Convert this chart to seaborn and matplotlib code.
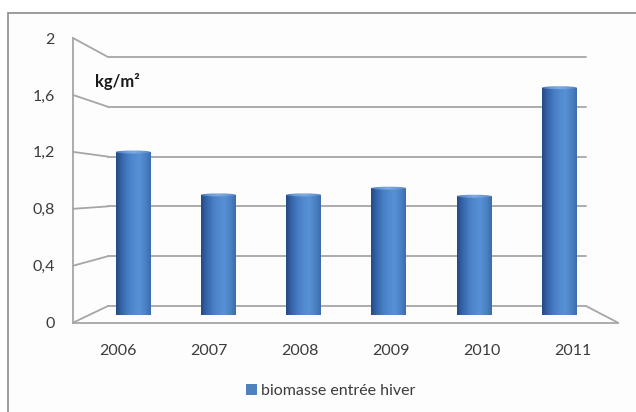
import numpy as np
import pandas as pd
import matplotlib
matplotlib.use("Agg")
import matplotlib.pyplot as plt
import seaborn as sns
from matplotlib.patches import Ellipse, Rectangle, Patch
from matplotlib.lines import Line2D
from matplotlib.colors import LinearSegmentedColormap

# ---- data -------------------------------------------------------------
years = ["2006", "2007", "2008", "2009", "2010", "2011"]
biomass = [1.22, 0.90, 0.90, 0.95, 0.89, 1.70]
y_ticks = [0, 0.4, 0.8, 1.2, 1.6, 2.0]
y_tick_labels = ["0", "0,4", "0,8", "1,2", "1,6", "2"]
unit_label = "kg/m²"
series_label = "biomasse entrée hiver"

# ---- style ------------------------------------------------------------
W, H = 636, 412
line_color = "#a6a6a6"
text_color = "#3c3c3c"
bar_color = "#4f81bd"
sns.set_theme(style="white")
plt.rcParams["font.family"] = ["Lato", "DejaVu Sans"]

fig = plt.figure(figsize=(W / 100, H / 100), dpi=100)
fig.patch.set_facecolor("white")


def box(left, top, right, bottom):
    """Axes rectangle from pixel edges (origin at the top-left corner)."""
    return [left / W, (H - bottom) / H, (right - left) / W, (bottom - top) / H]


# outer chart frame
fig.add_artist(Rectangle((8 / W, -0.1), 1.0, (H - 13) / H + 0.1,
                         transform=fig.transFigure, facecolor="#fdfdfd",
                         edgecolor="#8c8c8c", lw=1.2, zorder=0))

# ---- back wall with its gridlines --------------------------------------
ax_back = fig.add_axes(box(108, 57, 586, 306), zorder=1)
ax_back.set_xlim(0, 1)
ax_back.set_ylim(0, 2)
ax_back.set_xticks([])
ax_back.set_yticks(y_ticks)
ax_back.yaxis.grid(True, color=line_color, lw=1.3)
ax_back.tick_params(left=False, labelleft=False, bottom=False)
for s in ax_back.spines.values():
    s.set_visible(False)
ax_back.patch.set_alpha(0)
for gl in ax_back.get_ygridlines():
    gl.set_clip_on(False)

# ---- front axes: value scale and category labels ------------------------
ax_front = fig.add_axes(box(73, 38, 618, 322.7), zorder=3)
ax_front.set_xlim(-0.5, 5.5)
ax_front.set_ylim(0, 2)
ax_front.set_yticks(y_ticks, y_tick_labels)
ax_front.set_xticks(range(len(years)), years)
ax_front.set_xticks(np.arange(0.5, len(years) - 1, 1), minor=True)
ax_front.tick_params(axis="x", which="major", length=0, pad=15,
                     labelsize=11.5, labelcolor=text_color)
ax_front.tick_params(axis="x", which="minor", length=5, width=1.2,
                     color=line_color, direction="out")
ax_front.tick_params(axis="y", length=4, width=1.2, color=line_color,
                     direction="out", pad=9, labelsize=11.5,
                     labelcolor=text_color)
ax_front.spines[["top", "right"]].set_visible(False)
for s in ("left", "bottom"):
    ax_front.spines[s].set_color(line_color)
    ax_front.spines[s].set_linewidth(1.3)
ax_front.patch.set_alpha(0)

# perspective connectors between front scale and back wall
to_fig = fig.transFigure.inverted()
for v in y_ticks:
    p0 = to_fig.transform(ax_front.transData.transform((-0.5, v)))
    p1 = to_fig.transform(ax_back.transData.transform((0, v)))
    fig.add_artist(Line2D([p0[0], p1[0]], [p0[1], p1[1]],
                          color=line_color, lw=1.3, zorder=1))
p0 = to_fig.transform(ax_front.transData.transform((5.5, 0)))
p1 = to_fig.transform(ax_back.transData.transform((1, 0)))
fig.add_artist(Line2D([p0[0], p1[0]], [p0[1], p1[1]],
                      color=line_color, lw=1.3, zorder=1))

# ---- cylinders at mid depth ---------------------------------------------
ax_bar = fig.add_axes(box(90.5, 47.5, 602, 315.5), zorder=2)
df = pd.DataFrame({"year": years, "biomass": biomass})
sns.barplot(data=df, x="year", y="biomass", ax=ax_bar, width=0.41,
            color=bar_color, saturation=1)

body_cmap = LinearSegmentedColormap.from_list(
    "cyl", ["#254a84", "#3566aa", "#467cc2", "#5189cf", "#5790d4",
            "#4c83c6", "#3c6cae"])
cap_cmap = LinearSegmentedColormap.from_list(
    "cap", ["#4a78b8", "#6b9ad6", "#7eaae0", "#6c9bd8", "#5585c6"])
grad = np.linspace(0, 1, 256).reshape(1, -1)
ell_h = 0.045

for bar in list(ax_bar.patches):
    x0 = bar.get_x()
    w = bar.get_width()
    h = bar.get_height()
    cx = x0 + w / 2
    bar.set_facecolor("none")
    bar.set_edgecolor("none")
    body = Rectangle((x0, 0), w, h, transform=ax_bar.transData,
                     facecolor="none", edgecolor="none")
    ax_bar.add_patch(body)
    im = ax_bar.imshow(grad, cmap=body_cmap, aspect="auto",
                       extent=(x0, x0 + w, 0, h), zorder=2)
    im.set_clip_path(body)
    base = Ellipse((cx, 0), w, ell_h, transform=ax_bar.transData,
                   facecolor="none", edgecolor="none")
    ax_bar.add_patch(base)
    im = ax_bar.imshow(grad, cmap=body_cmap, aspect="auto",
                       extent=(x0, x0 + w, -ell_h / 2, 0), zorder=2)
    im.set_clip_path(base)
    cap = Ellipse((cx, h), w, ell_h * 0.5, transform=ax_bar.transData,
                  facecolor="none", edgecolor="none")
    ax_bar.add_patch(cap)
    im = ax_bar.imshow(grad, cmap=cap_cmap, aspect="auto",
                       extent=(x0, x0 + w, h - ell_h, h + ell_h), zorder=3)
    im.set_clip_path(cap)

ax_bar.set_xlim(-0.5, 5.5)
ax_bar.set_ylim(0, 2)
ax_bar.axis("off")

# unit label
fig.text(95 / W, (H - 82) / H, unit_label, fontsize=12, fontweight="bold",
         color="#1a1a1a", ha="left", va="center")

# legend
fig.legend(handles=[Patch(facecolor=bar_color, edgecolor="none")],
           labels=[series_label], loc="center",
           bbox_to_anchor=(331 / W, (H - 391) / H), frameon=False,
           fontsize=11.5, labelcolor=text_color, handlelength=0.65,
           handleheight=0.65, handletextpad=0.3)

fig.savefig("out.png", dpi=100)
